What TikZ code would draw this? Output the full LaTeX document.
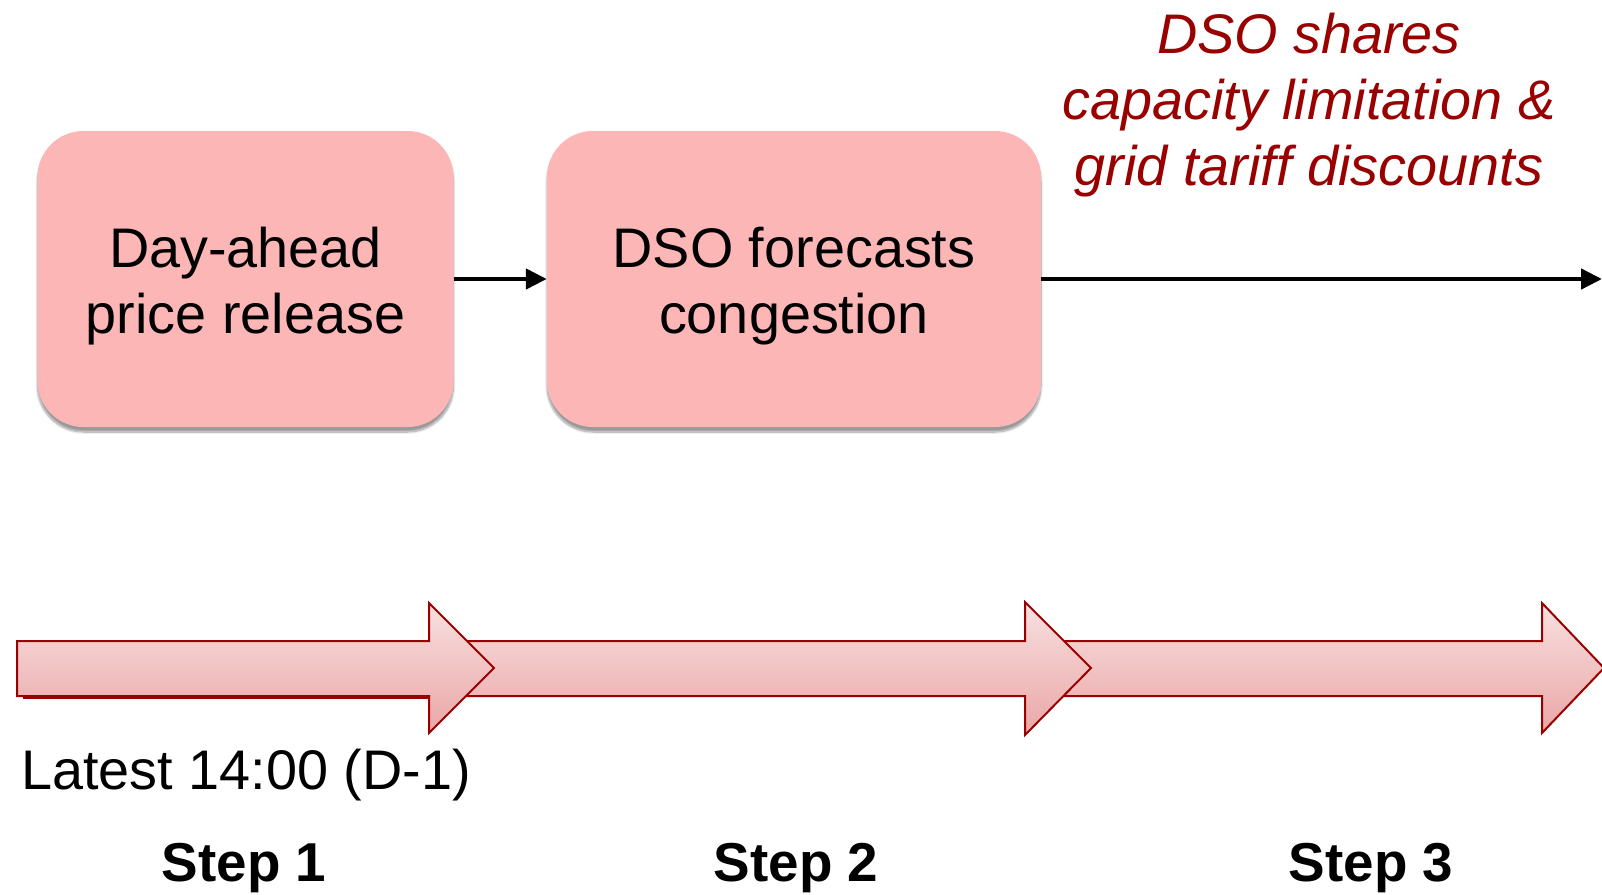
\documentclass[tikz,border=0pt]{standalone}
\usepackage{fontspec}
\setmainfont{Liberation Sans}
\usetikzlibrary{arrows.meta,shadows.blur}

\definecolor{boxpink}{RGB}{252,182,182}
\definecolor{darkred}{RGB}{153,0,0}
\definecolor{arrtop}{RGB}{248,224,224}
\definecolor{arrbot}{RGB}{234,166,166}

\begin{document}
\begin{tikzpicture}[x=1bp,y=-1bp,
  stepbox/.style={draw=none, fill=boxpink, rounded corners=46bp,
    minimum width=416bp, minimum height=296bp, inner sep=0pt,
    blur shadow={shadow xshift=0bp, shadow yshift=-5bp,
      shadow blur steps=10, shadow opacity=40}},
  boxtext/.style={align=center, inner sep=0pt, font=\fontsize{56}{66.5}\selectfont},
  flow/.style={line width=4.5bp, -{Triangle[length=21bp,width=20bp]}},
  phase/.style={draw=darkred, line width=2bp, line join=miter,
    top color=arrtop, bottom color=arrbot},
  note/.style={align=center, inner sep=0pt, text=darkred,
    font=\fontsize{56}{66.5}\selectfont\itshape},
  plain/.style={inner sep=0pt, font=\fontsize{56}{66}\selectfont},
  steplabel/.style={inner sep=0pt, font=\fontsize{55}{66}\selectfont\bfseries}]

\useasboundingbox (0,0) rectangle (1602,894);

% process boxes
\node[stepbox] (b1) at (245.5,279) {};
\node[boxtext] (t1) at (245.5,286) {Day-ahead\\price release};
\node[stepbox, minimum width=494bp] (b2) at (794,279) {};
\node[boxtext] (t2) at (794,286) {DSO forecasts\\congestion};

% connectors
\coordinate (out) at (1602,279);
\draw[flow] (b1.east) -- (b2.west);
\draw[flow] (b2.east) -- (out);

\node[note] (n3) at (1309,105) {DSO shares\\capacity limitation \&\\grid tariff discounts};

% timeline block arrows (back to front)
\draw[phase] (1035,641) -- (1542,641) -- (1542,603) -- (1604,668)
  -- (1542,733) -- (1542,696) -- (1035,696) -- cycle;
\draw[phase] (440,641) -- (1025,641) -- (1025,602) -- (1091,668)
  -- (1025,735) -- (1025,696) -- (440,696) -- cycle;
\draw[darkred, line width=2bp] (23,698) -- (429,698);
\draw[phase] (17,641) -- (429,641) -- (429,603) -- (494,668)
  -- (429,733) -- (429,696) -- (17,696) -- cycle;

\node[plain, anchor=base west] (lt) at (21,789) {Latest 14:00 (D-1)};

\node[steplabel, anchor=base] (s1) at (244,881) {Step 1};
\node[steplabel, anchor=base] (s2) at (796,881) {Step 2};
\node[steplabel, anchor=base] (s3) at (1371,881) {Step 3};

\end{tikzpicture}
\end{document}
